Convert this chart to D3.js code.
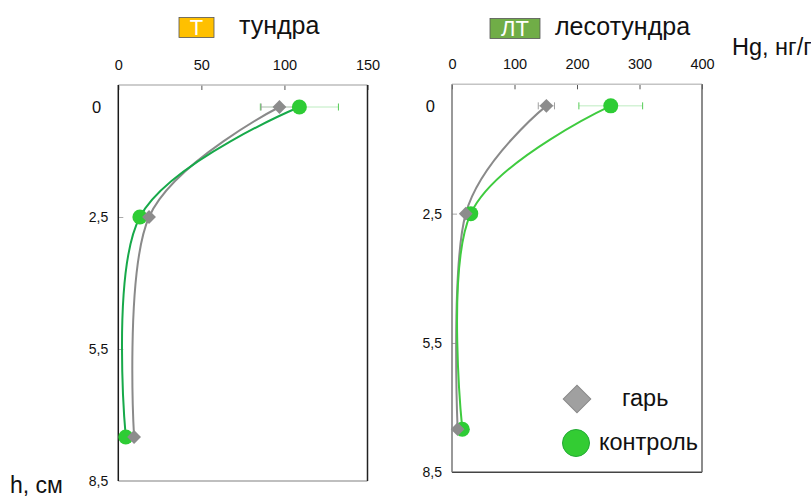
<!DOCTYPE html>
<html>
<head>
<meta charset="utf-8">
<script src="https://cdn.jsdelivr.net/npm/d3@7"></script>
<style>
  body { margin: 0; background: #fff; }
  svg { display: block; font-family: "Liberation Sans", Arial, sans-serif; }
</style>
</head>
<body>
<svg id="chart" width="811" height="498"></svg>
<script>
// ---- data ----
const depths = [0, 2.5, 7.5];
const depthTicks = [0, 2.5, 5.5, 8.5];
const tundraTicks = [0, 50, 100, 150];
const forestTundraTicks = [0, 100, 200, 300, 400];

const tundraBurn = [97, 18.5, 9.5];
const tundraBurnErr = [11, 0, 0];
const tundraControl = [109, 13, 4.5];
const tundraControlErr = [23.5, 0, 0];

const ftBurn = [151, 22, 9];
const ftBurnErr = [13, 0, 0];
const ftControl = [254, 30, 16.5];
const ftControlErr = [51, 0, 0];

const seriesNames = ["гарь", "контроль"];

const svg = d3.select("#chart");

function panel(cfg) {
  const x = d3.scaleLinear().domain(cfg.xDomain).range(cfg.xRange);
  const y = d3.scaleLinear().domain([-0.5, 8.5]).range(cfg.yRange);
  const g = svg.append("g");
  const [x0, x1] = cfg.xRange, [y0, y1] = cfg.yRange;

  // top axis
  const ax = g.append("g").attr("transform", `translate(0,${y0})`)
    .call(d3.axisTop(x).tickValues(cfg.xTicks).tickSizeInner(-5).tickSizeOuter(0).tickPadding(15).tickFormat(d3.format("d")));
  ax.select(".domain").remove();
  ax.selectAll("line").attr("stroke", "#555");
  ax.selectAll("text").attr("font-size", 14.5).attr("fill", "#111").attr("font-family", "Liberation Sans, Arial, sans-serif");

  // left axis
  const ay = g.append("g").attr("transform", `translate(${x0},0)`)
    .call(d3.axisLeft(y).tickValues(depthTicks).tickSizeInner(-5).tickSizeOuter(0).tickPadding(10)
      .tickFormat(d => String(d).replace(".", ",")));
  ay.select(".domain").remove();
  ay.selectAll("line").attr("stroke", "#aaa").attr("opacity", d => (d === 0 || d === 8.5) ? 0 : 1);
  ay.selectAll("text").attr("font-size", d => d === 0 ? 16.5 : 14).attr("fill", "#111")
    .attr("font-family", "Liberation Sans, Arial, sans-serif")
    .attr("x", d => d === 0 ? -17 : -10);

  // box borders
  const b = cfg.borders;
  g.append("line").attr("x1", x0).attr("x2", x1).attr("y1", y0).attr("y2", y0).attr("stroke", b.top).attr("stroke-width", 1.5);
  g.append("line").attr("x1", x0).attr("x2", x1).attr("y1", y1).attr("y2", y1).attr("stroke", b.bottom).attr("stroke-width", 1.5);
  g.append("line").attr("x1", x0).attr("x2", x0).attr("y1", y0).attr("y2", y1).attr("stroke", b.left).attr("stroke-width", 1.5);
  g.append("line").attr("x1", x1).attr("x2", x1).attr("y1", y0).attr("y2", y1).attr("stroke", b.right).attr("stroke-width", 1.5);

  const line = d3.line().x(d => x(d[0])).y(d => y(d[1])).curve(d3.curveCardinal.tension(0));

  function errBars(vals, errs, color) {
    vals.forEach((v, i) => {
      if (!errs[i]) return;
      const yy = y(depths[i]);
      g.append("line").attr("x1", x(v - errs[i])).attr("x2", x(v + errs[i])).attr("y1", yy).attr("y2", yy)
        .attr("stroke", color.bar).attr("stroke-width", 1);
      [v - errs[i], v + errs[i]].forEach(e => {
        g.append("line").attr("x1", x(e)).attr("x2", x(e)).attr("y1", yy - 3.5).attr("y2", yy + 3.5)
          .attr("stroke", color.cap).attr("stroke-width", 1);
      });
    });
  }
  errBars(cfg.control, cfg.controlErr, { bar: "#bdecc0", cap: "#55cc55" });
  errBars(cfg.burn, cfg.burnErr, { bar: "#c8c8c8", cap: "#a0a0a0" });

  // lines
  g.append("path").datum(cfg.burn.map((v, i) => [v, depths[i]]))
    .attr("d", line).attr("fill", "none").attr("stroke", "#8a8a8a").attr("stroke-width", 2);
  g.append("path").datum(cfg.control.map((v, i) => [v, depths[i]]))
    .attr("d", line).attr("fill", "none").attr("stroke", cfg.greenLine).attr("stroke-width", 2);

  // markers
  cfg.control.forEach((v, i) => {
    g.append("circle").attr("cx", x(v)).attr("cy", y(depths[i])).attr("r", 7.5)
      .attr("fill", "#2ecc35");
  });
  cfg.burn.forEach((v, i) => {
    g.append("path").attr("d", d3.symbol().type(d3.symbolSquare).size(95)())
      .attr("transform", `translate(${x(v)},${y(depths[i])}) rotate(45)`)
      .attr("fill", "#8c8c8c");
  });
  return { x, y, g };
}

panel({
  xDomain: [0, 150], xRange: [118.3, 367.5], yRange: [85, 481],
  xTicks: tundraTicks,
  burn: tundraBurn, burnErr: tundraBurnErr, control: tundraControl, controlErr: tundraControlErr,
  greenLine: "#17a94a",
  borders: { top: "#bdbdbd", bottom: "#aaaaaa", left: "#1a1a1a", right: "#222222" }
});
panel({
  xDomain: [0, 400], xRange: [452, 702], yRange: [84.3, 472.3],
  xTicks: forestTundraTicks,
  burn: ftBurn, burnErr: ftBurnErr, control: ftControl, controlErr: ftControlErr,
  greenLine: "#3fcb3f",
  borders: { top: "#c4c4c4", bottom: "#444444", left: "#777777", right: "#666666" }
});

// titles
function titleBox(x, y, w, h, fill, label, title, tx) {
  svg.append("rect").attr("x", x).attr("y", y).attr("width", w).attr("height", h)
    .attr("fill", fill).attr("stroke", "#555").attr("stroke-width", 0.8);
  svg.append("text").attr("x", x + w / 2).attr("y", y + h - 2.5).attr("text-anchor", "middle")
    .attr("font-size", 22).attr("fill", "#fff").text(label);
  svg.append("text").attr("x", tx).attr("y", y + 16).attr("font-size", 25).attr("fill", "#111").text(title);
}
titleBox(179, 17.5, 35, 20, "#ffc000", "Т", "тундра", 239);
titleBox(490, 18.5, 50, 20, "#70ad47", "ЛТ", "лесотундра", 555);

svg.append("text").attr("x", 732).attr("y", 55).attr("font-size", 23.5).attr("fill", "#111").text("Hg, нг/г");
svg.append("text").attr("x", 10).attr("y", 493).attr("font-size", 23).attr("fill", "#111").text("h, см");

// legend
const leg = svg.append("g");
leg.append("path").attr("d", d3.symbol().type(d3.symbolSquare).size(380)())
  .attr("transform", "translate(577,399) rotate(45)").attr("fill", "#a0a0a0").attr("stroke", "#8a8a8a").attr("stroke-width", 1);
leg.append("text").attr("x", 622).attr("y", 406).attr("font-size", 23.5).attr("fill", "#111").text(seriesNames[0]);
leg.append("circle").attr("cx", 576).attr("cy", 443).attr("r", 13.5).attr("fill", "#33cc33").attr("stroke", "#22aa33").attr("stroke-width", 1);
leg.append("text").attr("x", 599).attr("y", 450).attr("font-size", 23.5).attr("fill", "#111").text(seriesNames[1]);
</script>
</body>
</html>
